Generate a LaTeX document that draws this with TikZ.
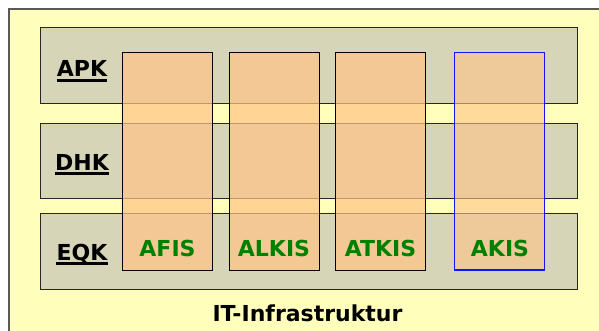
\documentclass[tikz,border=0pt]{standalone}
\usepackage{fontspec}
\setmainfont{DejaVu Sans}
\definecolor{outerfill}{RGB}{255,255,187}
\definecolor{bandfill}{RGB}{214,213,183}
\definecolor{colfill}{RGB}{255,196,135}
\definecolor{lblgreen}{RGB}{0,128,0}
\definecolor{akisblue}{RGB}{20,20,255}
\tikzset{
  outerbox/.style={draw=black!65, line width=1.2pt, fill=outerfill},
  band/.style={draw=black!85, line width=1pt, fill=bandfill, anchor=north west,
    minimum width=536.3pt, minimum height=76.3pt, inner sep=0pt, outer sep=0pt},
  column/.style={draw=black, line width=1pt, fill=colfill, fill opacity=0.72,
    anchor=north west, minimum width=90pt, minimum height=217.7pt, inner sep=0pt, outer sep=0pt},
  akiscol/.style={column, draw=akisblue, line width=1.25pt, fill opacity=0.6},
  systxt/.style={text=lblgreen, font=\fontsize{22}{26}\selectfont\bfseries, anchor=base, inner sep=0pt},
  rowtxt/.style={text=black, font=\fontsize{22}{26}\selectfont\bfseries, anchor=base, inner sep=0pt},
  uline/.style={line width=3.2pt, draw=black}
}
\begin{document}
\begin{tikzpicture}[x=1pt,y=-1pt]
\useasboundingbox (0,0) rectangle (599,330);
\clip (0,0) rectangle (599,330);
\draw[outerbox] (9,9) rectangle (640,360);
% bands
\node[band] (apkband) at (40.7,27) {};
\node[band, minimum height=74.6pt] (dhkband) at (40.7,123.7) {};
\node[band] (eqkband) at (40.7,213.3) {};
% columns
\node[column] (afis) at (122.7,52.3) {};
\node[column] (alkis) at (229.3,52.3) {};
\node[column] (atkis) at (335.7,52.3) {};
\node[akiscol] (akis) at (454.3,52.3) {};
% column labels
\node[systxt] (afist) at (167.5,256) {AFIS};
\node[systxt] (alkist) at (274,256) {ALKIS};
\node[systxt] (atkist) at (380.5,256) {ATKIS};
\node[systxt] (akist) at (500,256) {AKIS};
% row labels
\node[rowtxt] (apk) at (82,76.7) {APK};
\node[rowtxt] (dhk) at (82,170) {DHK};
\node[rowtxt] (eqk) at (82,260) {EQK};
\foreach \n in {apk,dhk,eqk}{
  \draw[uline] ([yshift=-3.8pt]\n.base west) -- ([yshift=-3.8pt]\n.base east);
}
% title
\node[rowtxt] (infra) at (307.5,321.7) {IT-Infrastruktur};
\end{tikzpicture}
\end{document}
